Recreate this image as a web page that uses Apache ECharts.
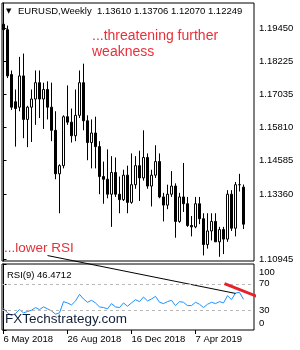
<!DOCTYPE html>
<html><head><meta charset="utf-8">
<script src="https://cdn.jsdelivr.net/npm/echarts@6/dist/echarts.min.js"></script>
<style>html,body{margin:0;padding:0;background:#fff}#c{width:300px;height:350px}</style>
</head><body><div id="c"></div>
<script>
// weekly candles, first = week of 6 May 2018
const opens = [1.1960,1.1940,1.1775,1.1675,1.1655,1.1770,1.1610,1.1655,1.1685,1.1745,
1.1685,1.1720,1.1655,1.1570,1.1410,1.1440,1.1620,1.1600,1.1550,1.1625,
1.1745,1.1605,1.1525,1.1560,1.1510,1.1400,1.1390,1.1335,1.1415,1.1335,
1.1315,1.1405,1.1305,1.1370,1.1440,1.1395,1.1470,1.1365,1.1405,1.1455,
1.1325,1.1295,1.1335,1.1365,1.1235,1.1325,1.1300,1.1220,1.1215,1.1300,
1.1245,1.1150,1.1200,1.1235,1.1160,1.1205,1.1170,1.1335,1.1210,1.1370,
1.13610];
const highs = [1.1983,1.1955,1.1790,1.1720,1.1840,1.1852,1.1660,1.1720,1.1790,1.1790,
1.1745,1.1750,1.1745,1.1640,1.1445,1.1625,1.1735,1.1650,1.1720,1.1790,
1.1815,1.1625,1.1610,1.1620,1.1530,1.1455,1.1500,1.1475,1.1470,1.1400,
1.1425,1.1440,1.1485,1.1475,1.1495,1.1570,1.1485,1.1425,1.1515,1.1485,
1.1340,1.1370,1.1420,1.1375,1.1340,1.1450,1.1325,1.1255,1.1325,1.1325,
1.1265,1.1265,1.1265,1.1265,1.1215,1.1215,1.1350,1.1350,1.1380,1.1410,
1.13706];
const lows = [1.1823,1.1762,1.1645,1.1510,1.1640,1.1541,1.1508,1.1527,1.1590,1.1615,
1.1575,1.1610,1.1530,1.1390,1.1265,1.1430,1.1590,1.1525,1.1530,1.1615,
1.1570,1.1460,1.1430,1.1430,1.1335,1.1300,1.1320,1.1215,1.1325,1.1265,
1.1310,1.1265,1.1300,1.1355,1.1310,1.1385,1.1355,1.1290,1.1395,1.1320,
1.1235,1.1280,1.1325,1.1175,1.1230,1.1270,1.1215,1.1180,1.1210,1.1225,
1.1110,1.1135,1.1165,1.1160,1.1105,1.1115,1.1160,1.1200,1.1180,1.1345,
1.12070];
const closes = [1.1940,1.1770,1.1655,1.1650,1.1770,1.1610,1.1655,1.1685,1.1745,1.1685,
1.1720,1.1655,1.1570,1.1410,1.1440,1.1620,1.1600,1.1550,1.1625,1.1745,
1.1605,1.1525,1.1560,1.1510,1.1400,1.1390,1.1335,1.1415,1.1335,1.1315,
1.1405,1.1305,1.1370,1.1440,1.1395,1.1470,1.1365,1.1405,1.1455,1.1325,
1.1295,1.1335,1.1365,1.1235,1.1325,1.1300,1.1220,1.1215,1.1300,1.1245,
1.1150,1.1200,1.1235,1.1160,1.1205,1.1170,1.1335,1.1210,1.1370,1.1370,
1.12249];
const rsi = [33,26,22,25,31,26,28,30,34,31,
35,32,29,24,26,43,41,38,44,54,
47,42,45,41,35,34,32,40,35,34,
41,36,41,46,43,50,44,47,51,42,
40,43,45,37,43,42,37,37,42,39,
34,39,42,40,43,41,52,46,56,57,
46.47];
const priceTicks = [1.10945,1.13360,1.14585,1.15810,1.17035,1.18225,1.19450];
const rsiTicks = [0,30,70,100];
const rsiLevels = [30,70];
const dateTickIdx = [0,16,32,48];
const dateTickLabels = ['6 May 2018','26 Aug 2018','16 Dec 2018','7 Apr 2019'];
const lastPrice = 1.12249;
const titleText = 'EURUSD,Weekly  1.13610 1.13706 1.12070 1.12249';
const rsiTitle = 'RSI(9) 46.4712';
const blackTrend = [[11,112.8],[58,55.4]];
const redTrend = [[55.25,70.3],[63.25,51.2]];

const FONT = "'Liberation Sans', Arial, sans-serif";
const chart = echarts.init(document.getElementById('c'), null, {renderer:'canvas'});
const candles = opens.map((o,i)=>[i,o,closes[i],lows[i],highs[i]]);
const XMIN = -0.375, XMAX = 62.625;

chart.setOption({
  animation:false,
  backgroundColor:'#fff',
  textStyle:{fontFamily:FONT},
  grid:[
    {left:2, top:3, width:252, height:258, show:true, borderColor:'#000', borderWidth:1, backgroundColor:'transparent'},
    {left:2, top:264, width:252, height:66, show:true, borderColor:'#000', borderWidth:1, backgroundColor:'transparent'}
  ],
  xAxis:[
    {type:'value', gridIndex:0, min:XMIN, max:XMAX, show:false},
    {type:'value', gridIndex:1, min:XMIN, max:XMAX,
      axisLine:{show:false}, splitLine:{show:false},
      axisTick:{show:true, customValues:dateTickIdx, length:4, lineStyle:{color:'#000'}},
      axisLabel:{show:true, customValues:dateTickIdx, align:'left', margin:4, fontSize:9.5, color:'#000', fontFamily:FONT,
        formatter:v=>{const k=dateTickIdx.indexOf(v); return k>=0?dateTickLabels[k]:'';}}}
  ],
  yAxis:[
    {type:'value', gridIndex:0, position:'right', min:1.10895, max:1.20380,
      axisLine:{show:true, lineStyle:{color:'#000'}}, splitLine:{show:false},
      axisTick:{show:true, customValues:priceTicks, length:3, lineStyle:{color:'#000'}},
      axisLabel:{show:true, customValues:priceTicks, margin:5, fontSize:9.5, color:'#000', fontFamily:FONT,
        formatter:v=>v.toFixed(5)}},
    {type:'value', gridIndex:1, position:'right', min:0, max:100,
      axisLine:{show:true, lineStyle:{color:'#000'}}, splitLine:{show:false},
      axisTick:{show:true, customValues:rsiTicks, length:3, lineStyle:{color:'#000'}},
      axisLabel:{show:true, customValues:rsiTicks, margin:5, fontSize:9.5, color:'#000', fontFamily:FONT,
        formatter:v=> v===100?'{t|100}': v===0?'{b|0}': String(v),
        rich:{t:{padding:[16,0,0,0], fontSize:9.5, fontFamily:FONT}, b:{padding:[0,0,14,0], fontSize:9.5, fontFamily:FONT}}}}
  ],
  series:[
    {type:'candlestick', xAxisIndex:0, yAxisIndex:0, data:candles, encode:{x:0, y:[1,2,3,4]},
      barWidth:2,
      itemStyle:{color:'#fff', color0:'#000', borderColor:'#000', borderColor0:'#000', borderWidth:1},
      markLine:{silent:true, symbol:'none', data:[{yAxis:lastPrice}],
        lineStyle:{opacity:0},
        label:{show:true, position:'end', distance:1, formatter:lastPrice.toFixed(5),
          backgroundColor:'#000', color:'#fff', fontSize:9.5, fontFamily:FONT, padding:[1,3,0,3]}}},
    {type:'line', xAxisIndex:1, yAxisIndex:1, data:rsi.map((v,i)=>[i,v]), symbol:'none',
      lineStyle:{color:'#1e90ff', width:1}, z:3,
      markLine:{silent:true, symbol:'none', label:{show:false},
        lineStyle:{color:'#b8b8b8', type:[3,3], width:1},
        data:rsiLevels.map(v=>({yAxis:v}))}},
    {type:'line', xAxisIndex:1, yAxisIndex:1, data:blackTrend, symbol:'none', clip:false,
      lineStyle:{color:'#000', width:1}, z:4},
    {type:'line', xAxisIndex:1, yAxisIndex:1, data:redTrend, symbol:'none', clip:false,
      lineStyle:{color:'#e8202a', width:3}, z:5}
  ],
  graphic:[
    {type:'text', left:6, top:8, style:{text:'▼', font:"7px 'DejaVu Sans'", fill:'#000'}},
    {type:'text', x:18, y:11, style:{text:titleText, font:'9.5px '+FONT, fill:'#000', verticalAlign:'middle'}},
    {type:'text', x:92, y:36, style:{text:'...threatening further', font:'14px '+FONT, fill:'#e8303a', verticalAlign:'middle'}},
    {type:'text', x:92, y:52, style:{text:'weakness', font:'14px '+FONT, fill:'#e8303a', verticalAlign:'middle'}},
    {type:'text', x:4, y:248, style:{text:'...lower RSI', font:'13.5px '+FONT, fill:'#e8303a', verticalAlign:'middle'}},
    {type:'text', x:7, y:275, style:{text:rsiTitle, font:'9.5px '+FONT, fill:'#000', verticalAlign:'middle'}},
    {type:'text', x:5, y:319, z:10, style:{text:'FXTechstrategy.com', font:'13.5px '+FONT, fill:'#14203a', verticalAlign:'middle'}}
  ]
});
</script></body></html>
